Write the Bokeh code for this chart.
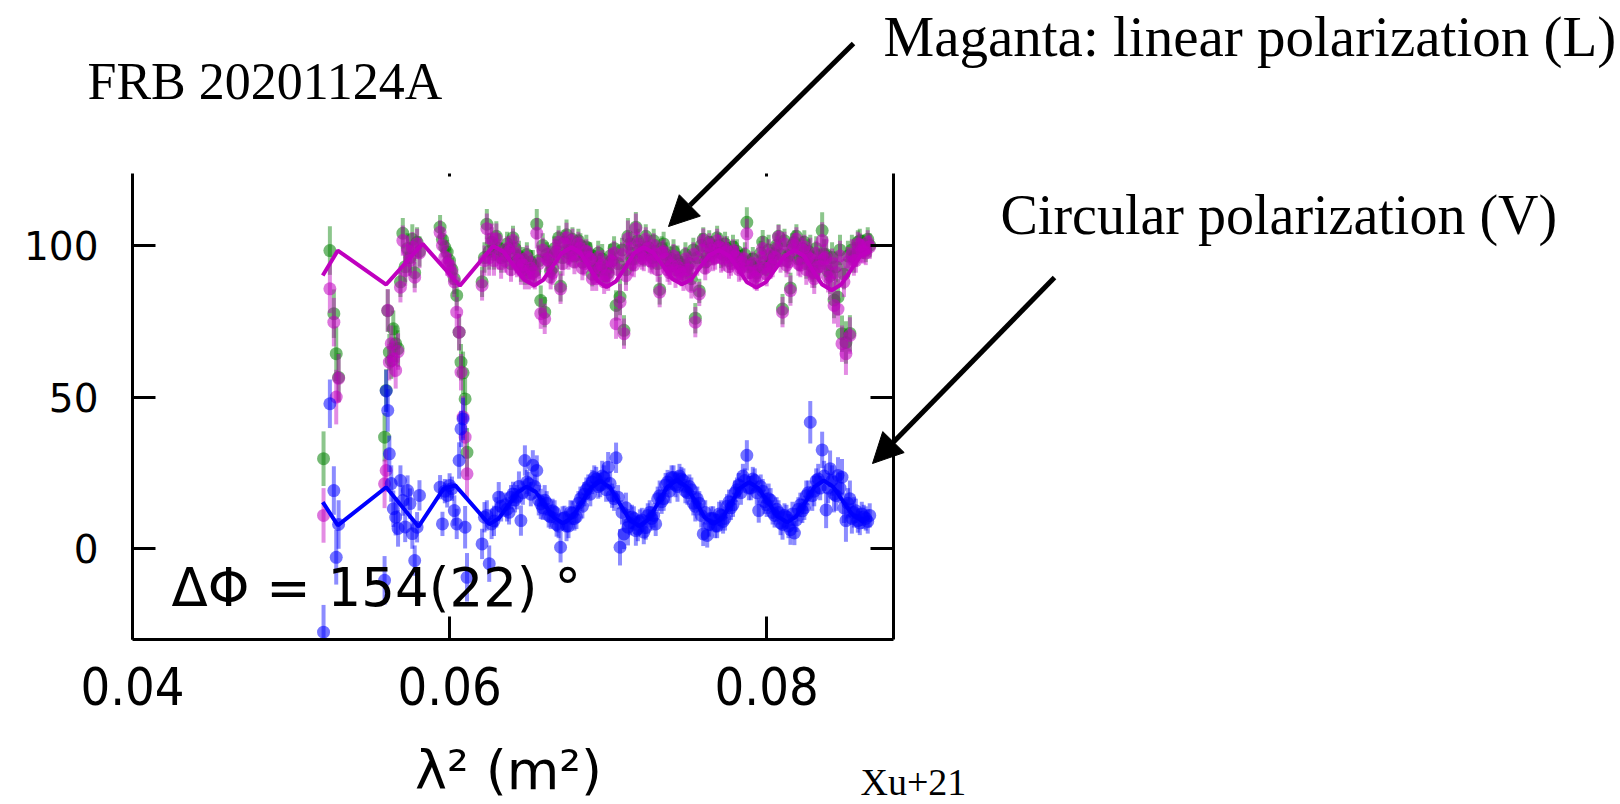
from bokeh.plotting import figure
from bokeh.models import Range1d, LinearAxis, FixedTicker, Label, Arrow, NormalHead, ColumnDataSource
from bokeh.embed import file_html
from bokeh.resources import INLINE

# ---------------- data ----------------
# main channel set
lam2 = [0.05205, 0.05245, 0.05270, 0.05285, 0.05300,
        0.05590, 0.05600, 0.05610, 0.05620, 0.05632, 0.05645, 0.05660, 0.05675, 0.05690,
        0.05705, 0.05720, 0.05735, 0.05750, 0.05765, 0.05780, 0.05795, 0.05810,
        0.05940, 0.05955, 0.05970, 0.05985, 0.06000, 0.06015, 0.06030, 0.06045, 0.06060,
        0.06072, 0.06085, 0.06098, 0.06110,
        0.06205, 0.06220, 0.06235, 0.06250, 0.06265, 0.06280, 0.06295, 0.06310, 0.06325,
        0.06350, 0.06375, 0.06400, 0.06425, 0.06450, 0.06475, 0.06500, 0.06525, 0.06550, 0.06575,
        0.06600, 0.06625, 0.06650, 0.06675, 0.06700, 0.06725, 0.06750, 0.06775, 0.06800, 0.06825,
        0.06850, 0.06875, 0.06900, 0.06925, 0.06950, 0.06975, 0.07000, 0.07025, 0.07050, 0.07075,
        0.07100, 0.07125, 0.07150, 0.07175, 0.07200, 0.07225, 0.07250, 0.07275, 0.07300, 0.07325,
        0.07350, 0.07375, 0.07400, 0.07425, 0.07450, 0.07475, 0.07500, 0.07525, 0.07550, 0.07575,
        0.07600, 0.07625, 0.07650, 0.07675, 0.07700, 0.07725, 0.07750, 0.07775, 0.07800, 0.07825,
        0.07850, 0.07875, 0.07900, 0.07925, 0.07950, 0.07975, 0.08000, 0.08025, 0.08050, 0.08075,
        0.08100, 0.08125, 0.08150, 0.08175, 0.08200, 0.08225, 0.08250, 0.08275, 0.08300, 0.08325,
        0.08350, 0.08375, 0.08400, 0.08425, 0.08450, 0.08475, 0.08500, 0.08525, 0.08550, 0.08575,
        0.08600, 0.08625, 0.08650]

pol_green = [29.7, 98.3, 77.5, 64.3, 56.5,
             36.8, 52.2, 78.5, 64.8, 62.0, 72.5, 67.6, 66.0, 88.0,
             104.0, 93.0, 99.0, 96.0, 102.0, 91.0, 101.0, 98.0,
             106.0, 102.0, 99.4, 97.8, 95.0, 92.0, 89.0, 83.5, 71.4,
             61.5, 58.0, 49.4, 31.8,
             88.0, 96.0, 107.0, 98.0, 101.0, 97.0, 103.0, 99.0, 96.0,
             96.5, 99.0, 102.5, 95.0, 93.0, 92.0, 91.0, 93.5, 107.0, 81.8,
             78.0, 96.0, 92.5, 98.0, 86.5, 101.0, 97.5, 102.0, 99.0, 100.0,
             96.5, 97.0, 90.5, 91.7, 93.5, 90.0, 91.0, 95.0, 80.2, 83.0,
             72.0, 103.0, 95.5, 106.0, 98.5, 97.0, 99.5, 96.0, 98.0, 85.5,
             100.5, 94.0, 95.5, 92.0, 94.0, 91.5, 93.0, 89.0, 76.0, 85.0,
             102.0, 96.5, 99.0, 98.0, 100.0, 97.0, 99.0, 96.0, 97.5, 94.5,
             95.0, 107.6, 93.5, 92.0, 93.0, 101.1, 92.0, 94.5, 97.0, 103.0,
             79.0, 95.0, 86.0, 101.0, 95.5, 99.0, 94.0, 96.5, 91.0, 94.0,
             104.9, 97.0, 90.0, 82.0, 82.9, 70.9, 68.0, 71.0, 96.0, 101.0,
             99.5, 98.5, 100.0]

pol_L = [11.0, 85.7, 74.7, 50.0, 56.2,
         21.4, 25.8, 78.6, 61.5, 67.6, 62.5, 58.8, 65.0, 86.2,
         101.6, 91.7, 98.3, 95.0, 99.4, 89.5, 100.5, 97.5,
         104.3, 100.0, 96.1, 94.0, 93.5, 91.0, 88.0, 78.0, 71.4,
         58.2, 43.4, 36.8, 24.7,
         86.8, 95.0, 105.5, 96.0, 102.2, 95.0, 102.2, 97.0, 94.0,
         95.0, 98.0, 101.6, 93.5, 92.0, 90.5, 89.5, 91.0, 104.0, 77.5,
         75.8, 95.0, 91.0, 97.5, 85.7, 100.5, 96.0, 101.5, 97.0, 99.0,
         94.0, 96.0, 89.0, 89.0, 92.5, 88.0, 90.0, 94.5, 74.2, 81.3,
         70.9, 102.2, 94.0, 105.5, 97.0, 95.5, 99.0, 94.5, 97.0, 84.6,
         98.0, 92.0, 93.5, 90.0, 91.5, 89.0, 92.0, 86.5, 74.7, 84.0,
         101.6, 95.0, 98.5, 96.0, 99.5, 95.5, 98.0, 94.0, 96.5, 92.0,
         94.0, 103.8, 91.0, 89.5, 92.0, 99.0, 90.5, 93.0, 96.0, 102.7,
         78.0, 93.5, 85.1, 100.0, 94.0, 98.5, 92.0, 95.5, 89.0, 93.0,
         101.6, 96.0, 88.0, 80.2, 79.0, 67.6, 64.3, 70.3, 95.0, 100.5,
         98.3, 97.5, 99.5]

pol_V = [-27.5, 47.8, 19.2, -2.8, 8.0,
         -10.4, 52.0, 45.6, 31.3, 21.5, 13.2, 10.4, 6.7, 22.5,
         15.9, 7.2, 19.2, 14.9, 5.0, -3.9, 7.1, 17.6,
         20.3, 8.2, 19.0, 17.6, 20.9, 19.8, 12.6, 8.2, 29.1,
         39.5, 42.8, 7.1, -9.4,
         1.6, 10.4, 11.0, -4.9, 8.2, 9.2, 12.0, 17.0, 14.0,
         14.5, 12.0, 18.1, 17.0, 9.3, 29.1, 21.4, 27.5, 25.8, 14.8,
         16.0, 11.0, 12.5, 8.0, 0.5, 10.2, 7.5, 11.8, 10.5, 16.5,
         18.0, 20.5, 22.0, 23.0, 21.0, 23.5, 26.9, 17.5, 30.0, 0.5,
         4.9, 7.1, 10.5, 6.0, 9.0, 5.5, 11.0, 10.0, 8.2, 17.5,
         16.5, 22.0, 23.5, 21.0, 24.0, 22.5, 18.5, 19.5, 14.0, 15.0,
         4.9, 4.4, 10.0, 7.5, 11.5, 9.0, 14.0, 13.5, 18.5, 21.0,
         24.0, 30.8, 20.0, 22.5, 12.6, 19.0, 14.5, 16.0, 11.0, 12.0,
         8.0, 10.5, 6.3, 5.2, 13.0, 12.5, 17.5, 41.7, 19.0, 23.0,
         32.6, 12.8, 26.4, 18.0, 24.2, 23.6, 9.3, 16.5, 12.0, 9.3,
         11.5, 10.0, 11.0]

pol_err = [9, 8, 8, 9, 8,
           8, 7, 7, 6, 6, 6, 6, 6, 5,
           5, 5, 5, 5, 5, 5, 5, 5,
           4, 4, 4, 4, 4, 4, 5, 5, 6,
           6, 7, 7, 8,
           5, 5, 5, 6, 5, 5, 5, 5, 5,
           4, 4, 4, 4, 5, 5, 4, 5, 5, 5,
           5, 4, 4, 4, 5, 4, 4, 4, 4, 4,
           4, 4, 4, 4, 4, 4, 5, 4, 5, 6,
           5, 6, 4, 5, 4, 4, 4, 4, 4, 5,
           4, 4, 4, 4, 4, 4, 4, 4, 5, 4,
           4, 4, 4, 4, 4, 4, 4, 4, 4, 4,
           4, 5, 4, 4, 4, 4, 4, 4, 4, 4,
           5, 4, 5, 4, 4, 4, 5, 7, 5, 5,
           6, 6, 6, 6, 6, 6, 7, 6, 5, 4,
           4, 4, 4]

# interleaved channels of the dense part of the band
lam2_mid = [0.063625, 0.063875, 0.064125, 0.064375, 0.064625, 0.064875, 0.065125, 0.065375, 0.065625, 0.065875,
            0.066125, 0.066375, 0.066625, 0.066875, 0.067125, 0.067375, 0.067625, 0.067875, 0.068125, 0.068375,
            0.068625, 0.068875, 0.069125, 0.069375, 0.069625, 0.069875, 0.070125, 0.070375, 0.070625, 0.070875,
            0.071125, 0.071375, 0.071625, 0.071875, 0.072125, 0.072375, 0.072625, 0.072875, 0.073125, 0.073375,
            0.073625, 0.073875, 0.074125, 0.074375, 0.074625, 0.074875, 0.075125, 0.075375, 0.075625, 0.075875,
            0.076125, 0.076375, 0.076625, 0.076875, 0.077125, 0.077375, 0.077625, 0.077875, 0.078125, 0.078375,
            0.078625, 0.078875, 0.079125, 0.079375, 0.079625, 0.079875, 0.080125, 0.080375, 0.080625, 0.080875,
            0.081125, 0.081375, 0.081625, 0.081875, 0.082125, 0.082375, 0.082625, 0.082875, 0.083125, 0.083375,
            0.083625, 0.083875, 0.084125, 0.084375, 0.084625, 0.084875, 0.085125, 0.085375, 0.085625, 0.085875,
            0.086125, 0.086375]

green_mid = [100.5, 94.0, 99.0, 96.5, 95.5, 97.0, 94.5, 91.5, 95.0, 100.0,
             97.0, 91.5, 99.0, 102.5, 96.0, 103.5, 98.5, 96.5, 101.5, 94.5,
             99.5, 97.0, 94.5, 97.5, 95.5, 92.0, 96.5, 99.0, 94.0, 98.5,
             92.0, 100.5, 95.5, 101.5, 97.5, 103.0, 97.0, 101.5, 94.0, 99.0,
             97.0, 93.0, 98.0, 95.0, 92.5, 97.0, 94.0, 98.5, 96.0, 100.0,
             94.5, 101.0, 97.5, 102.5, 97.5, 100.5, 95.0, 99.5, 98.0, 94.5,
             97.0, 93.0, 95.5, 91.0, 97.5, 94.5, 98.5, 95.5, 100.0, 97.0,
             101.5, 96.5, 100.0, 103.0, 95.5, 101.0, 98.0, 93.0, 99.0, 95.0,
             97.0, 91.5, 96.0, 93.0, 98.5, 90.5, 96.5, 98.5, 97.0, 101.5,
             99.5, 102.0]

L_mid = [99.0, 92.0, 97.5, 95.0, 93.5, 96.0, 92.5, 89.5, 94.0, 98.5,
         95.5, 89.5, 98.0, 101.0, 94.0, 102.5, 97.0, 94.5, 100.5, 92.5,
         98.0, 95.5, 92.5, 96.0, 93.5, 90.0, 95.0, 97.5, 92.0, 97.0,
         90.0, 99.0, 93.5, 100.5, 96.0, 102.0, 95.0, 100.0, 92.0, 97.5,
         95.5, 91.0, 96.5, 93.0, 90.5, 95.5, 92.0, 97.0, 94.0, 98.5,
         92.5, 100.0, 95.5, 101.5, 96.0, 99.0, 93.0, 98.0, 96.0, 92.5,
         95.5, 91.0, 94.0, 89.0, 96.0, 92.5, 97.0, 93.5, 99.0, 95.0,
         100.5, 94.5, 98.5, 102.0, 93.5, 99.5, 96.0, 91.0, 97.5, 93.0,
         95.5, 89.5, 94.0, 91.0, 96.5, 88.0, 94.5, 97.0, 95.0, 100.0,
         98.0, 101.0]

V_mid = [13.0, 17.0, 16.0, 20.5, 18.5, 22.0, 18.0, 20.5, 16.0, 13.5,
         15.0, 10.5, 12.0, 7.5, 10.0, 7.5, 12.0, 10.0, 15.0, 14.0,
         19.5, 18.0, 23.5, 20.5, 24.0, 19.5, 21.5, 16.5, 17.0, 12.0,
         13.5, 8.5, 10.0, 6.5, 9.5, 7.0, 12.0, 11.0, 16.5, 15.5,
         21.0, 19.0, 23.5, 20.5, 23.0, 19.0, 20.5, 15.0, 16.5, 11.0,
         12.0, 8.0, 10.0, 7.5, 11.0, 10.0, 15.5, 14.5, 19.5, 18.5,
         22.5, 20.0, 23.0, 18.5, 20.5, 15.5, 16.5, 12.0, 13.0, 8.5,
         11.0, 7.5, 11.5, 9.5, 14.5, 13.5, 18.5, 17.5, 22.5, 20.0,
         24.0, 20.0, 22.5, 17.5, 20.0, 13.5, 15.0, 10.0, 12.5, 8.5,
         10.5, 9.0]

err_mid = [4, 4, 4, 5, 4, 4, 4, 4, 5, 4,
           4, 4, 4, 4, 4, 5, 4, 4, 4, 4,
           4, 4, 4, 4, 5, 4, 4, 4, 4, 4,
           5, 4, 4, 4, 4, 4, 4, 4, 4, 4,
           4, 4, 4, 5, 4, 4, 4, 4, 4, 4,
           4, 4, 4, 4, 5, 4, 4, 4, 4, 4,
           4, 4, 4, 4, 4, 4, 5, 4, 4, 4,
           4, 4, 4, 4, 4, 4, 4, 5, 4, 4,
           5, 5, 5, 5, 5, 5, 5, 5, 4, 4,
           4, 4]

# fitted model curves
model_L_x = [0.05200, 0.05295, 0.05600, 0.05830, 0.06065, 0.06275, 0.06340, 0.06405, 0.06470, 0.06535,
             0.06590, 0.06650, 0.06710, 0.06770, 0.06825, 0.06880, 0.06935, 0.06990, 0.07050, 0.07110,
             0.07165, 0.07225, 0.07285, 0.07345, 0.07405, 0.07465, 0.07525, 0.07580, 0.07640, 0.07700,
             0.07760, 0.07820, 0.07875, 0.07935, 0.07995, 0.08055, 0.08115, 0.08175, 0.08235, 0.08290,
             0.08350, 0.08410, 0.08470, 0.08530, 0.08590, 0.08650]
model_L = [90.1, 98.3, 87.1, 100.5, 86.7, 99.8, 97.9, 93.3, 88.7, 86.8,
           88.6, 93.1, 97.6, 99.4, 97.5, 92.9, 88.2, 86.3, 88.2, 92.9,
           97.5, 99.4, 97.6, 93.3, 89.0, 87.2, 88.8, 92.9, 96.8, 98.5,
           96.7, 92.3, 87.9, 86.1, 87.9, 92.3, 96.6, 98.4, 96.6, 91.8,
           87.1, 85.2, 87.1, 91.8, 96.5, 98.3]

model_V_x = [0.05200, 0.05295, 0.05600, 0.05804, 0.05962, 0.06036, 0.06250, 0.06310, 0.06370, 0.06430,
             0.06485, 0.06545, 0.06600, 0.06660, 0.06715, 0.06775, 0.06835, 0.06895, 0.06952, 0.07012,
             0.07073, 0.07134, 0.07194, 0.07255, 0.07315, 0.07375, 0.07436, 0.07494, 0.07552, 0.07610,
             0.07667, 0.07722, 0.07777, 0.07832, 0.07886, 0.07947, 0.08009, 0.08070, 0.08131, 0.08188,
             0.08246, 0.08303, 0.08360, 0.08420, 0.08480, 0.08540, 0.08600, 0.08646]
model_V = [15.4, 7.7, 20.3, 7.3, 19.8, 20.9, 8.1, 10.0, 14.3, 18.6,
           20.5, 18.7, 14.5, 10.2, 8.4, 10.5, 15.4, 20.3, 22.3, 20.2,
           14.9, 9.7, 7.5, 9.7, 15.1, 20.5, 22.7, 20.5, 15.5, 10.3,
           8.2, 10.2, 15.1, 20.0, 22.0, 20.0, 15.4, 10.6, 8.7, 10.8,
           15.6, 20.5, 22.5, 20.4, 15.8, 11.3, 9.2, 10.4]

x_ticks = [0.04, 0.06, 0.08]
y_ticks = [0, 50, 100]

# ---------------- layout ----------------
W, H = 1620, 804
FL, FR, FT, FB = 132, 893, 173, 639          # the axes box, in page pixels
X0, X1 = 0.04, 0.088
Y0, Y1 = -29.9, 123.7


def dx(px):
    return X0 + (px - FL) * (X1 - X0) / (FR - FL)


def dy(py):
    return Y0 + (FB - py) * (Y1 - Y0) / (FB - FT)


# the frame covers the whole page; the axes are pinned to the data box
p = figure(width=W, height=H, x_range=Range1d(dx(0), dx(W)), y_range=Range1d(dy(H), dy(0)),
           output_backend="svg", toolbar_location=None,
           x_axis_location=None, y_axis_location=None, min_border=0)
p.outline_line_color = None
p.xgrid.visible = False
p.ygrid.visible = False
p.background_fill_color = "white"
p.border_fill_color = "white"


def style_axis(ax, ticks):
    ax.ticker = FixedTicker(ticks=ticks)
    ax.axis_line_width = 3
    ax.axis_line_color = "black"
    ax.major_tick_line_width = 3
    ax.major_tick_line_color = "black"
    ax.major_tick_in = 23
    ax.major_tick_out = 0
    ax.minor_tick_line_color = None


xa = LinearAxis(fixed_location=Y0, bounds=(X0, X1))
style_axis(xa, x_ticks)
xa.major_label_text_font = "DejaVu Sans Condensed"
xa.major_label_text_font_size = "52px"
xa.major_label_standoff = 27
xa.major_label_text_color = "black"
p.add_layout(xa, "below")

ya = LinearAxis(fixed_location=X0, bounds=(Y0, Y1))
style_axis(ya, y_ticks)
ya.major_label_text_font = "DejaVu Sans"
ya.major_label_text_font_size = "39px"
ya.major_label_standoff = 34
ya.major_label_text_color = "black"
p.add_layout(ya, "left")

ra = LinearAxis(fixed_location=X1, bounds=(Y0, Y1))
style_axis(ra, y_ticks)
ra.major_label_text_alpha = 0
ra.major_label_text_font_size = "10px"
p.add_layout(ra, "right")

ta = LinearAxis(fixed_location=Y1, bounds=(X0, X1))
ta.ticker = FixedTicker(ticks=[0.06, 0.08])
ta.axis_line_color = None
ta.major_tick_line_width = 3
ta.major_tick_line_color = "black"
ta.major_tick_in = 3
ta.major_tick_out = 0
ta.minor_tick_line_color = None
ta.major_label_text_alpha = 0
ta.major_label_text_font_size = "10px"
p.add_layout(ta, "above")

# ---------------- data glyphs ----------------
all_x = lam2 + lam2_mid
all_g = pol_green + green_mid
all_m = pol_L + L_mid
all_v = pol_V + V_mid
all_e = pol_err + err_mid


def lo(vals):
    return [max(v - e, Y0) for v, e in zip(vals, all_e)]


def hi(vals):
    return [min(v + e, Y1) for v, e in zip(vals, all_e)]


src = ColumnDataSource(dict(
    x=all_x,
    g=all_g, g_lo=lo(all_g), g_hi=hi(all_g),
    m=all_m, m_lo=lo(all_m), m_hi=hi(all_m),
    v=all_v, v_lo=lo(all_v), v_hi=hi(all_v),
))

for key, col in (("g", "#008000"), ("m", "#c000c0"), ("v", "#0000ff")):
    p.segment(x0="x", y0=key + "_lo", x1="x", y1=key + "_hi", source=src,
              line_color=col, line_alpha=0.45, line_width=4)
    p.scatter(x="x", y=key, source=src, size=13, fill_color=col, fill_alpha=0.55, line_color=None)

p.line(model_L_x, model_L, line_color="#bf00bf", line_width=4)
p.line(model_V_x, model_V, line_color="#0000ff", line_width=4)

# ---------------- texts & arrows ----------------
serif = "Liberation Serif"


def add_text(px, base_py, text, font, size, align="left"):
    # base_py: wanted baseline in page pixels; Bokeh draws the text about 0.31 em lower
    p.add_layout(Label(x=dx(px), y=dy(base_py - 0.31 * size), text=text, text_font=font,
                       text_font_size=f"{size}px", text_baseline="alphabetic",
                       text_align=align, text_color="black"))


add_text(87, 97, "FRB 20201124A", serif, 52)
add_text(883, 54, "Maganta: linear polarization (L)", serif, 57)
add_text(1000, 232, "Circular polarization (V)", serif, 56)
add_text(860, 793, "Xu+21", serif, 38)
add_text(171, 603, "ΔΦ = 154(22) °", "DejaVu Sans", 53)
add_text(508, 787, "λ² (m²)", "DejaVu Sans", 54, align="center")

p.add_layout(Arrow(end=NormalHead(size=30, fill_color="black", line_color="black"),
                   x_start=dx(853), y_start=dy(43), x_end=dx(668), y_end=dy(226),
                   line_width=5, line_color="black"))
p.add_layout(Arrow(end=NormalHead(size=30, fill_color="black", line_color="black"),
                   x_start=dx(1054), y_start=dy(277), x_end=dx(872), y_end=dy(463),
                   line_width=5, line_color="black"))

open("out.html", "w").write(file_html(p, INLINE))
